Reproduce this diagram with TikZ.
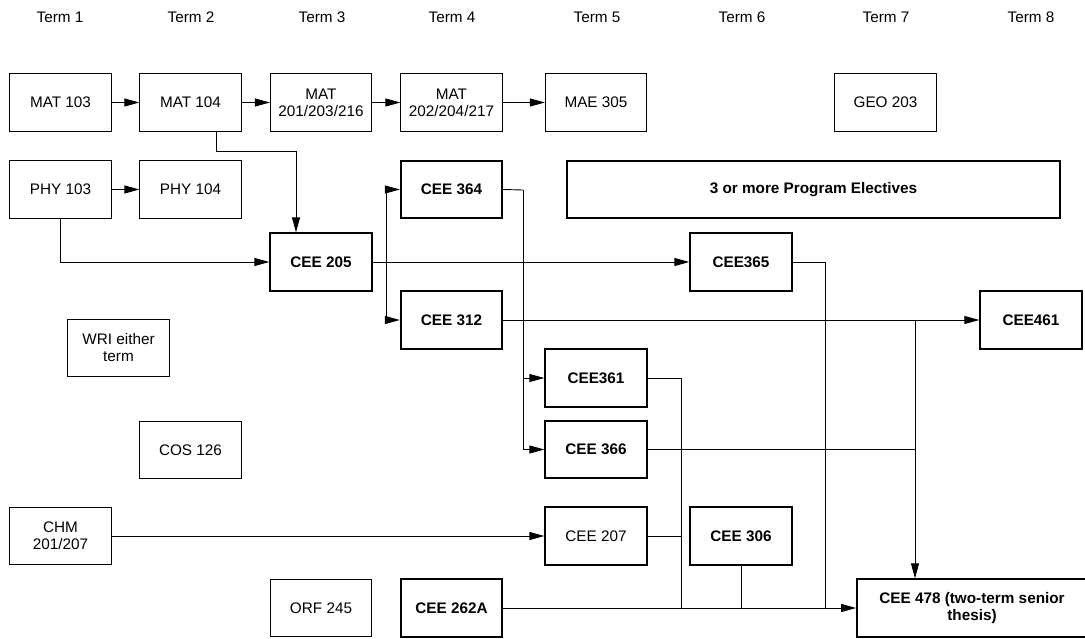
\documentclass[tikz,border=0pt]{standalone}
\usepackage{fontspec}
\setmainfont{Liberation Sans}
\usetikzlibrary{arrows.meta}
\begin{document}
\begin{tikzpicture}[x=1pt,y=-1pt,
  txt/.style={font=\fontsize{15.3}{17}\selectfont},
  box/.style={draw,line width=0.8pt,minimum width=101.5pt,minimum height=57.5pt,inner sep=0pt,align=center,txt},
  bbox/.style={box,line width=1.8pt,font=\fontsize{15.3}{17}\selectfont\bfseries},
  con/.style={line width=0.9pt},
  arr/.style={con,-{Triangle[length=15pt,width=8pt]}},
]
\useasboundingbox (0,0) rectangle (1085,639);
% term labels
\node[txt] (t1) at (60,17) {Term 1};
\node[txt] (t2) at (191,17) {Term 2};
\node[txt] (t3) at (322,17) {Term 3};
\node[txt] (t4) at (452,17) {Term 4};
\node[txt] (t5) at (597,17) {Term 5};
\node[txt] (t6) at (742,17) {Term 6};
\node[txt] (t7) at (886,17) {Term 7};
\node[txt] (t8) at (1031,17) {Term 8};
% boxes
\node[box] (mat103) at (60.5,102.5) {MAT 103};
\node[box] (mat104) at (190.5,102.5) {MAT 104};
\node[box] (mat201) at (321,102.5) {MAT\\201/203/216};
\node[box] (mat202) at (451.5,102.5) {MAT\\202/204/217};
\node[box] (mae305) at (596,102.5) {MAE 305};
\node[box] (geo203) at (885.5,102.5) {GEO 203};
\node[box] (phy103) at (60.5,189.5) {PHY 103};
\node[box] (phy104) at (190.5,189.5) {PHY 104};
\node[bbox] (cee364) at (451.5,189.5) {CEE 364};
\node[bbox,minimum width=493pt] (elec) at (813.5,189.5) {3 or more Program Electives};
\node[bbox] (cee205) at (321,262) {CEE 205};
\node[bbox] (cee365) at (741,262) {CEE365};
\node[bbox] (cee312) at (451.5,320) {CEE 312};
\node[bbox] (cee461) at (1031,320) {CEE461};
\node[box] (wri) at (118.5,348) {WRI either\\term};
\node[bbox] (cee361) at (596,378) {CEE361};
\node[box] (cos126) at (190.5,450) {COS 126};
\node[bbox] (cee366) at (596,449.5) {CEE 366};
\node[box] (chm) at (60.5,536) {CHM\\201/207};
\node[box,line width=1.8pt] (cee207) at (596,536) {CEE 207};
\node[bbox] (cee306) at (741,536) {CEE 306};
\node[box] (orf245) at (321,608) {ORF 245};
\node[bbox] (cee262a) at (451.5,608) {CEE 262A};
\node[bbox,minimum width=230pt] (cee478) at (972,608) {CEE 478 (two-term senior\\thesis)};
% junction coordinates
\coordinate (k1) at (216,151);
\coordinate (k2) at (296,151);
\coordinate (k3) at (386,262);
\coordinate (k4) at (523,190);
\coordinate (k5) at (915,320);
\coordinate (k6) at (825,608);
\coordinate (k7) at (681,608);
% connectors
\draw[arr] (mat103) -- (mat104);
\draw[arr] (mat104) -- (mat201);
\draw[arr] (mat201) -- (mat202);
\draw[arr] (mat202) -- (mae305);
\draw[arr] (phy103) -- (phy104);
\draw[arr] (mat104.south -| k1) -- (k1) -- (k2) -- (cee205.north -| k2);
\draw[arr] (phy103.south) |- (cee205.west);
\draw[arr] (cee205) -- (cee365);
\draw[arr] (k3) |- (cee364.west);
\draw[arr] (k3) |- (cee312.west);
\draw[con] (cee364.east) -- (k4);
\draw[arr] (k4) |- (cee361.west);
\draw[arr] (k4) |- (cee366.west);
\draw[arr] (cee312) -- (cee461);
\draw[arr] (k5) -- (cee478.north -| k5);
\draw[con] (cee366.east) -- (cee366.east -| k5);
\draw[con] (cee365.east) -| (k6);
\draw[con] (cee361.east) -| (k7);
\draw[con] (cee207.east) -- (cee207.east -| k7);
\draw[con] (cee306.south) -- (cee306.south |- k7);
\draw[arr] (chm) -- (cee207);
\draw[arr] (cee262a) -- (cee478);
\end{tikzpicture}
\end{document}
